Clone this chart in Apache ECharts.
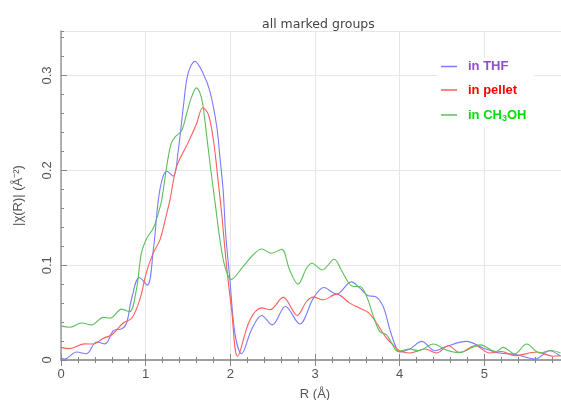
<!DOCTYPE html>
<html><head><meta charset="utf-8">
<script src="https://cdn.jsdelivr.net/npm/echarts@6/dist/echarts.min.js"></script>
<style>html,body{margin:0;padding:0;background:#fff}#c{width:561px;height:400px}</style>
</head><body><div id="c"></div>
<script>
const thfX = [0,0.04,0.185,0.30,0.42,0.52,0.62,0.72,0.775,0.83,0.925,1.02,1.09,1.15,1.20,1.248,1.326,1.385,1.445,1.50,1.582,1.68,1.76,1.84,1.877,1.916,1.944,1.995,2.054,2.133,2.25,2.37,2.495,2.65,2.82,2.98,3.105,3.255,3.43,3.53,3.63,3.71,3.805,3.884,3.96,4.0,4.12,4.26,4.415,4.55,4.79,4.986,5.18,5.38,5.6,5.77,5.9];
const thfY = [0.002,0.001,0.0084,0.0066,0.019,0.017,0.031,0.033,0.039,0.063,0.087,0.079,0.116,0.169,0.192,0.199,0.194,0.221,0.267,0.302,0.315,0.302,0.283,0.246,0.214,0.178,0.134,0.0845,0.028,0.0066,0.032,0.047,0.037,0.0564,0.038,0.065,0.0764,0.0695,0.0824,0.0758,0.0677,0.067,0.0564,0.032,0.0126,0.0084,0.0116,0.0196,0.0098,0.0143,0.0196,0.0126,0.0074,0.0056,0.001,0.0098,0.004];

const pelletX = [0,0.1,0.28,0.38,0.5,0.6,0.735,0.835,0.93,1.01,1.09,1.17,1.25,1.287,1.366,1.50,1.60,1.675,1.74,1.80,1.857,1.897,1.956,2.015,2.086,2.23,2.37,2.467,2.625,2.79,2.90,2.98,3.097,3.255,3.41,3.53,3.63,3.727,3.845,3.96,4.0,4.12,4.3,4.435,4.575,4.71,4.89,5.065,5.2,5.36,5.62,5.81,5.9];
const pelletY = [0.0133,0.012,0.017,0.0168,0.023,0.0266,0.039,0.044,0.0635,0.093,0.113,0.127,0.155,0.169,0.204,0.229,0.249,0.266,0.259,0.232,0.188,0.155,0.0985,0.053,0.004,0.042,0.055,0.053,0.066,0.047,0.0617,0.0663,0.0635,0.0695,0.060,0.0547,0.050,0.039,0.023,0.0126,0.0095,0.0074,0.0116,0.0074,0.015,0.008,0.015,0.0074,0.009,0.0045,0.0084,0.004,0.0045];

const ch3ohX = [0,0.1,0.245,0.36,0.5,0.58,0.716,0.81,0.89,0.95,1.01,1.09,1.15,1.19,1.25,1.30,1.346,1.425,1.484,1.543,1.60,1.66,1.70,1.74,1.78,1.82,1.877,1.936,2.01,2.15,2.27,2.37,2.487,2.605,2.70,2.80,2.90,2.965,3.085,3.227,3.31,3.40,3.45,3.53,3.61,3.69,3.766,3.845,3.904,3.98,4.12,4.22,4.40,4.55,4.70,4.95,5.14,5.22,5.36,5.50,5.655,5.79,5.9];
const ch3ohY = [0.036,0.0345,0.039,0.037,0.045,0.044,0.0537,0.051,0.074,0.113,0.128,0.139,0.155,0.169,0.205,0.228,0.235,0.242,0.26,0.2775,0.287,0.276,0.252,0.222,0.193,0.166,0.127,0.0985,0.085,0.0985,0.111,0.117,0.1126,0.1168,0.095,0.080,0.0968,0.102,0.095,0.1063,0.095,0.081,0.0775,0.0775,0.067,0.046,0.030,0.0266,0.018,0.009,0.0116,0.0098,0.0168,0.0105,0.0078,0.016,0.009,0.0133,0.0065,0.0168,0.0074,0.010,0.0074];

const seriesNames = ['in THF', 'in pellet', 'in CH3OH'];
const lineColors = ['#7a7aff', '#ff5c5c', '#5cbf5c'];
const textColors = ['#9050c8', '#ff0000', '#00e000'];

function zip(xs, ys) { return xs.map((x, i) => [x, ys[i]]); }
const seriesData = [zip(thfX, thfY), zip(pelletX, pelletY), zip(ch3ohX, ch3ohY)];

const FONT = 'Liberation Sans';
const axisGray = '#999';
const tickGray = '#888';

const chart = echarts.init(document.getElementById('c'), null, {renderer: 'canvas'});
chart.setOption({
  animation: false,
  backgroundColor: '#fff',
  title: {
    text: 'all marked groups',
    left: 257, top: 13,
    textStyle: {fontFamily: 'DejaVu Sans', fontSize: 12.5, fontWeight: 'normal', color: '#444'}
  },
  grid: {left: 61, top: 31, right: -8, bottom: 40, containLabel: false, outerBoundsMode: 'none'},
  legend: {
    orient: 'vertical', left: 437, top: 58,
    icon: 'rect', itemWidth: 16, itemHeight: 1.5, itemGap: 10.5,
    backgroundColor: '#fff', padding: [2, 8, 4, 4],
    data: seriesNames.map((n, i) => ({name: n, textStyle: {color: textColors[i]}})),
    formatter: function (name) {
      if (name === 'in CH3OH') return '{a|in CH}{s|3}{a|OH}';
      return '{a|' + name + '}';
    },
    textStyle: {
      fontFamily: FONT, fontSize: 13, fontWeight: 'bold', padding: [0, 0, 0, 6],
      rich: {
        a: {fontFamily: FONT, fontSize: 13, fontWeight: 'bold', lineHeight: 15},
        s: {fontFamily: FONT, fontSize: 9, fontWeight: 'bold', lineHeight: 15, padding: [7, 0, 0, 0]}
      }
    }
  },
  xAxis: [
    {
      type: 'value', min: 0, max: 6, interval: 1, position: 'bottom',
      axisLine: {lineStyle: {color: axisGray, width: 1.5}},
      axisTick: {inside: true, length: 6, lineStyle: {color: tickGray}},
      minorTick: {show: true, splitNumber: 5, length: 3, lineStyle: {color: tickGray}},
      splitLine: {show: true, lineStyle: {color: '#e6e6e6', width: 1}},
      axisLabel: {margin: 8, color: '#555', fontSize: 13, fontFamily: FONT},
      name: 'R (Å)', nameLocation: 'middle', nameGap: 28,
      nameTextStyle: {color: '#555', fontSize: 13, fontFamily: FONT}
    },
    {
      type: 'value', min: 0, max: 6, interval: 1, position: 'top',
      axisLine: {lineStyle: {color: axisGray, width: 1.5}},
      axisTick: {inside: true, length: 6, lineStyle: {color: tickGray}},
      minorTick: {show: true, splitNumber: 5, length: 3, lineStyle: {color: tickGray}},
      splitLine: {show: false},
      axisLabel: {show: false}
    }
  ],
  yAxis: [
    {
      type: 'value', min: 0, max: 0.347, interval: 0.1, position: 'left',
      axisLine: {show: true, lineStyle: {color: axisGray, width: 1.5}},
      axisTick: {show: true, inside: true, length: 6, lineStyle: {color: tickGray}},
      splitLine: {show: true, lineStyle: {color: '#e6e6e6', width: 1}},
      axisLabel: {rotate: 90, margin: 7, color: '#555', fontSize: 13, fontFamily: FONT, showMaxLabel: false},
      name: '|χ(R)| (Å⁻²)', nameLocation: 'middle', nameGap: 36,
      nameTextStyle: {color: '#555', fontSize: 13, fontFamily: FONT}
    },
    {
      type: 'value', min: 0, max: 0.347, interval: 0.02, position: 'left', offset: 0,
      axisLine: {show: false},
      axisTick: {show: true, inside: true, length: 3, lineStyle: {color: tickGray}},
      splitLine: {show: false},
      axisLabel: {show: false}
    }
  ],
  series: seriesNames.map((n, i) => ({
    name: n, type: 'line', xAxisIndex: 0, yAxisIndex: 0,
    data: seriesData[i], symbol: 'none', smooth: 0.35,
    lineStyle: {color: lineColors[i], width: 1.1},
    itemStyle: {color: lineColors[i]},
    clip: true
  }))
});
</script>
</body></html>
